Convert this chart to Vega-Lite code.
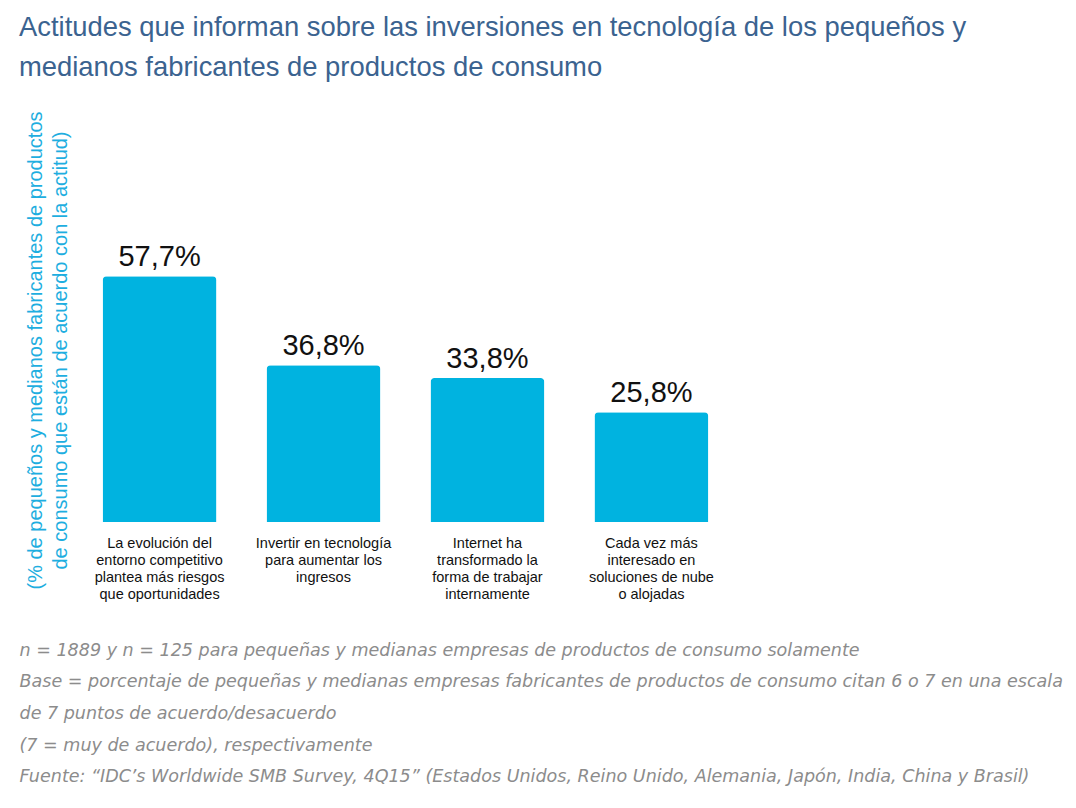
{
  "$schema": "https://vega.github.io/schema/vega-lite/v6.json",
  "autosize": {"type": "none"},
  "padding": {"left": 78, "top": 224, "right": 343, "bottom": 286},
  "width": 655,
  "height": 298,
  "background": "white",
  "config": {
    "view": {"stroke": null},
    "font": "Liberation Sans"
  },
  "title": {
    "text": ["Actitudes que informan sobre las inversiones en tecnología de los pequeños y", "medianos fabricantes de productos de consumo"],
    "anchor": "start",
    "frame": "group",
    "dx": -59,
    "offset": 30,
    "fontSize": 27.4,
    "fontWeight": "normal",
    "font": "Liberation Sans",
    "color": "#3b6390",
    "lineHeight": 40
  },
  "data": {
    "values": [
      {"actitud": "La evolución del|entorno competitivo|plantea más riesgos|que oportunidades", "porcentaje": 57.7, "etiqueta": "57,7%"},
      {"actitud": "Invertir en tecnología|para aumentar los|ingresos", "porcentaje": 36.8, "etiqueta": "36,8%"},
      {"actitud": "Internet ha|transformado la|forma de trabajar|internamente", "porcentaje": 33.8, "etiqueta": "33,8%"},
      {"actitud": "Cada vez más|interesado en|soluciones de nube|o alojadas", "porcentaje": 25.8, "etiqueta": "25,8%"}
    ]
  },
  "encoding": {
    "x": {
      "field": "actitud",
      "type": "nominal",
      "sort": null,
      "scale": {"paddingInner": 0.305, "paddingOuter": 0.15},
      "axis": {
        "title": [
          "n = 1889 y n = 125 para pequeñas y medianas empresas de productos de consumo solamente",
          "Base = porcentaje de pequeñas y medianas empresas fabricantes de productos de consumo citan 6 o 7 en una escala",
          "de 7 puntos de acuerdo/desacuerdo",
          "(7 = muy de acuerdo), respectivamente",
          "Fuente: “IDC’s Worldwide SMB Survey, 4Q15” (Estados Unidos, Reino Unido, Alemania, Japón, India, China y Brasil)"
        ],
        "titleFont": "DejaVu Sans",
        "titleFontStyle": "italic",
        "titleFontWeight": "normal",
        "titleFontSize": 17.55,
        "titleColor": "#8c8c8c",
        "titleAlign": "left",
        "titleBaseline": "alphabetic",
        "titleLineHeight": 31.7,
        "titleX": -59,
        "titleY": 133,
        "titleAngle": 0,
        "domain": false,
        "ticks": false,
        "labelAngle": 0,
        "labelExpr": "split(datum.label, '|')",
        "labelFontSize": 14.5,
        "labelLineHeight": 17,
        "labelColor": "#111111",
        "labelPadding": 14,
        "labelBaseline": "top",
        "labelLimit": 0
      }
    },
    "y": {
      "field": "porcentaje",
      "type": "quantitative",
      "scale": {"domain": [0, 70], "nice": false},
      "axis": {
        "title": ["(% de pequeños y medianos fabricantes de productos", "de consumo que están de acuerdo con la actitud)"],
        "titleColor": "#1eaee0",
        "titleFontSize": 20,
        "titleFontWeight": "normal",
        "titleLineHeight": 25,
        "titleAngle": 270,
        "titleAlign": "center",
        "titleBaseline": "middle",
        "titleX": -43,
        "titleY": 126,
        "domain": false,
        "ticks": false,
        "labels": false,
        "grid": false
      }
    }
  },
  "layer": [
    {
      "mark": {"type": "bar", "color": "#00b3e0", "cornerRadiusTopLeft": 4, "cornerRadiusTopRight": 4}
    },
    {
      "mark": {"type": "text", "baseline": "alphabetic", "dy": -10, "fontSize": 29, "color": "#111111", "font": "Liberation Sans"},
      "encoding": {"text": {"field": "etiqueta"}}
    }
  ]
}
